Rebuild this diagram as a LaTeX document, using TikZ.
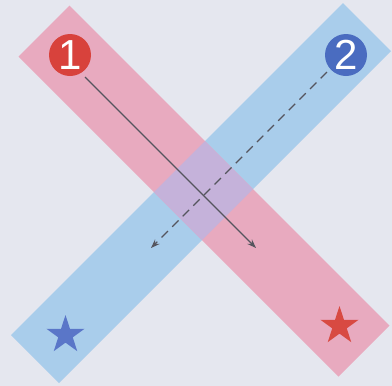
\documentclass[tikz,border=0pt]{standalone}
\usepackage{fontspec}
\setmainfont{Liberation Sans}
\usetikzlibrary{shapes.geometric,arrows.meta}
\definecolor{bgc}{HTML}{E5E7EF}
\definecolor{redband}{HTML}{E8AABF}
\definecolor{blueband}{HTML}{A9CDEB}
\definecolor{overlapc}{HTML}{C5B2DA}
\definecolor{redcirc}{HTML}{D8423C}
\definecolor{bluecirc}{HTML}{4A6CC0}
\definecolor{bluestar}{HTML}{5A76C8}
\definecolor{redstar}{HTML}{D84A42}
\definecolor{arrowc}{HTML}{55555E}
\tikzset{
  numcirc/.style={circle, minimum size=42pt, inner sep=0pt, text=white,
    font=\fontsize{42}{42}\selectfont},
  starmark/.style={star, star points=5, star point ratio=2.618, minimum size=40pt, inner sep=0pt},
  pathsolid/.style={arrowc, line width=1.1pt, -{Stealth[length=9pt,width=6.5pt]}},
  pathdash/.style={arrowc, line width=1.1pt, dash pattern=on 9pt off 6pt, -{Stealth[length=9pt,width=6.5pt]}}
}
\begin{document}
\begin{tikzpicture}[x=1pt,y=-1pt]
\useasboundingbox (0,0) rectangle (392,386);
\fill[bgc] (0,0) rectangle (392,386);
% bands
\fill[blueband] (343,3) -- (391,51) -- (59,383) -- (11,335) -- cycle;
\fill[redband] (69.5,5.5) -- (18.5,56.5) -- (338.5,376.5) -- (389.5,325.5) -- cycle;
\begin{scope}
  \clip (69.5,5.5) -- (18.5,56.5) -- (338.5,376.5) -- (389.5,325.5) -- cycle;
  \fill[overlapc] (343,3) -- (391,51) -- (59,383) -- (11,335) -- cycle;
\end{scope}
% markers
\node[numcirc, fill=redcirc] (c1) at (70,55) {1};
\node[numcirc, fill=bluecirc] (c2) at (346,55) {2};
\node[starmark, fill=bluestar] (s2) at (65.5,335) {};
\node[starmark, fill=redstar] (s1) at (339.5,326) {};
% arrows
\coordinate (a1s) at (85,77);
\coordinate (a1e) at (256,248);
\coordinate (a2s) at (327,72);
\coordinate (a2e) at (151,248);
\draw[pathsolid] (a1s) -- (a1e);
\draw[pathdash] (a2s) -- (a2e);
\end{tikzpicture}
\end{document}
